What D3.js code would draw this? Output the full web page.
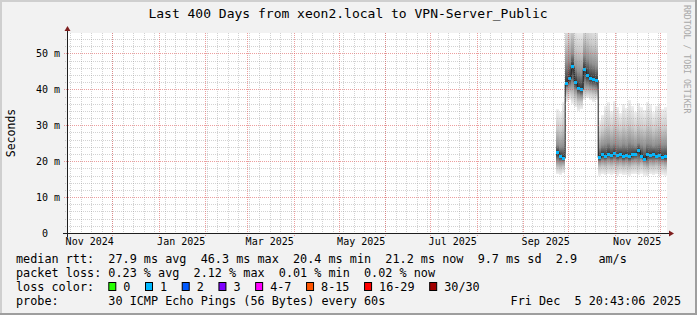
<!DOCTYPE html>
<html>
<head>
<meta charset="utf-8">
<script src="https://cdn.jsdelivr.net/npm/d3@7"></script>
<style>
body { margin:0; background:#f2f2f2; }
svg { display:block; }
text { font-family:"DejaVu Sans Mono", monospace; fill:#000; }
</style>
</head>
<body>
<div id="chart"></div>
<script>
var title = "Last 400 Days from xeon2.local to VPN-Server_Public";
var endTime = new Date(2025, 11, 5, 20, 43, 6);
var spanDays = 400;
var yMax = 55.7;
var yLabels = [0, 10, 20, 30, 40, 50];

// 2-day buckets with data (start date of each bucket)
var bucketDates = ["2025-09-23","2025-09-25","2025-09-27","2025-09-29","2025-10-01","2025-10-03","2025-10-05",
	"2025-10-07","2025-10-09","2025-10-11","2025-10-13","2025-10-15","2025-10-17","2025-10-19","2025-10-21",
	"2025-10-23","2025-10-25","2025-10-27","2025-10-29","2025-10-31","2025-11-02","2025-11-04","2025-11-06",
	"2025-11-08","2025-11-10","2025-11-12","2025-11-14","2025-11-16","2025-11-18","2025-11-20","2025-11-22",
	"2025-11-24","2025-11-26","2025-11-28","2025-11-30","2025-12-02","2025-12-04"];

// values in ms
var medianMs = [22.4,21.3,20.8,
	41.5,43.0,46.3,42.0,40.3,40.0,45.5,44.0,43.0,42.8,42.5,
	21.0,21.8,21.4,22.0,21.6,22.1,21.5,21.9,21.3,21.7,21.2,21.8,22.0,23.0,21.4,20.4,21.8,21.5,22.0,21.3,21.7,21.0,21.2];
var smokeMin = [16.4,16.2,16.6,
	36.5,37.0,36.0,35.0,34.0,34.5,37.0,37.5,37.0,36.5,37.0,
	16.0,16.3,16.1,16.4,16.2,16.3,16.0,16.4,16.1,16.2,15.9,16.3,16.4,16.1,16.5,16.0,15.8,16.3,16.1,16.3,16.0,16.2,16.0];
var smokeP10 = [18.2,18.0,18.4,
	38.5,39.0,38.5,37.5,36.5,36.5,39.0,39.0,38.8,38.5,38.5,
	18.2,18.5,18.3,18.6,18.4,18.6,18.3,18.5,18.2,18.4,18.1,18.5,18.6,18.3,18.7,18.2,17.9,18.4,18.3,18.5,18.2,18.4,18.1];
var smokeP25 = [20.0,19.8,19.8,
	40.5,41.0,41.5,39.8,38.5,38.2,41.5,41.2,40.8,40.5,40.2,
	19.8,20.2,20.0,20.4,20.1,20.4,20.0,20.3,19.9,20.2,19.8,20.2,20.4,20.0,20.6,19.8,19.4,20.2,20.0,20.3,19.9,20.1,19.8];
var smokeP75 = [24.5,24.0,24.2,
	47.5,48.0,50.0,46.0,45.0,44.5,49.5,48.5,47.5,47.0,46.5,
	23.8,24.5,24.8,25.2,24.6,25.0,24.7,24.3,24.9,24.5,25.3,24.8,24.4,25.1,24.6,24.2,25.0,24.8,24.3,24.7,25.0,24.5,24.6];
var smokeP90 = [29.0,28.5,29.5,
	53.0,54.0,56.0,51.5,51.0,50.5,55.0,54.0,53.0,52.5,52.0,
	27.5,28.5,29.5,30.0,29.0,30.2,29.6,28.8,29.8,29.2,30.4,29.5,28.6,29.9,29.3,28.9,30.1,29.7,28.7,29.4,29.8,29.0,29.3];
var smokeMax = [34.5,33.8,36.5,
	60,62,63,58,57,57,62,61,60,59,59,
	31.5,33.0,35.5,36.5,34.0,36.8,35.2,33.5,36.0,34.8,37.0,35.5,33.8,36.2,35.0,34.2,36.6,35.8,33.6,35.4,36.0,34.6,35.2];

var rttLegend = "median rtt:  27.9 ms avg  46.3 ms max  20.4 ms min  21.2 ms now  9.7 ms sd  2.9   am/s";
var lossLegend = "packet loss: 0.23 % avg  2.12 % max  0.01 % min  0.02 % now";
var lossLabels = ["0","1","2","3","4-7","8-15","16-29","30/30"];
var lossColors = ["#26ff00","#00b8ff","#0059ff","#7e00ff","#ff00ff","#ff5500","#ff0000","#a10000"];
var probeText = "probe:       30 ICMP Echo Pings (56 Bytes) every 60s";
var dateText = "Fri Dec  5 20:43:06 2025";

var width = 697, height = 315,
	plot_left = 67, plot_right = 667, plot_top = 33, plot_bottom = 233,
	legend_x = 16, legend_font = 11.8;

// keep runs of spaces in svg text
var pre = function (s) { return s.replace(/ /g, "\u00a0"); };

var svg = d3.select("#chart").append("svg")
	.attr("width", width)
	.attr("height", height);

// background with 3d frame
svg.append("rect").attr("width", width).attr("height", height).attr("fill", "#f2f2f2");
svg.append("path").attr("d", "M0,315V0H697").attr("fill", "none").attr("stroke", "#cfcfcf").attr("stroke-width", 4);
svg.append("path").attr("d", "M0,315H697V0").attr("fill", "none").attr("stroke", "#9e9e9e").attr("stroke-width", 4);

svg.append("rect")
	.attr("x", plot_left).attr("y", plot_top)
	.attr("width", plot_right - plot_left).attr("height", plot_bottom - plot_top)
	.attr("fill", "#ffffff");

var startTime = d3.timeDay.offset(endTime, -spanDays);
var x = d3.scaleTime().domain([startTime, endTime]).range([plot_left, plot_right]);
var y = d3.scaleLinear().domain([0, yMax]).range([plot_bottom, plot_top]);

var parse = d3.timeParse("%Y-%m-%d");
var dates = bucketDates.map(parse);

var buckets = dates.map(function (d, i) {
	return {
		t0: d,
		t1: i < dates.length - 1 ? dates[i + 1] : d3.timeDay.offset(d, 2),
		min: smokeMin[i], p10: smokeP10[i], p25: smokeP25[i], med: medianMs[i],
		p75: smokeP75[i], p90: smokeP90[i], max: smokeMax[i]
	};
});

// smoke gradients, darker towards the median like smokeping does
var gray = function (q) {
	var g = Math.round(50 + 190 * Math.abs(1 - 2 * q));
	return d3.rgb(g, g, g).toString();
};
var bands = [["min","p10",0,0.1],["p10","p25",0.1,0.25],["p25","med",0.25,0.5],
	["med","p75",0.5,0.75],["p75","p90",0.75,0.9],["p90","max",0.9,1]];

var defs = svg.append("defs");
defs.append("clipPath").attr("id", "plotclip")
	.append("rect").attr("x", plot_left).attr("y", plot_top)
	.attr("width", plot_right - plot_left).attr("height", plot_bottom - plot_top);

bands.forEach(function (b, k) {
	var lg = defs.append("linearGradient").attr("id", "band" + k)
		.attr("x1", 0).attr("y1", 1).attr("x2", 0).attr("y2", 0);
	lg.append("stop").attr("offset", 0).attr("stop-color", gray(b[2]));
	lg.append("stop").attr("offset", 1).attr("stop-color", gray(b[3]));
});

var graph = svg.append("g").attr("clip-path", "url(#plotclip)");

bands.forEach(function (b, k) {
	graph.append("g").selectAll("rect")
		.data(buckets).enter().append("rect")
		.attr("x", function (d) { return x(d.t0); })
		.attr("width", function (d) { return x(d.t1) - x(d.t0); })
		.attr("y", function (d) { return y(d[b[1]]); })
		.attr("height", function (d) { return y(d[b[0]]) - y(d[b[1]]); })
		.attr("fill", "url(#band" + k + ")")
		.attr("shape-rendering", "crispEdges");
});

// median line
var medLine = d3.line()
	.x(function (d) { return x(d[0]); })
	.y(function (d) { return y(d[1]); })
	.curve(d3.curveStepAfter);
var medPts = buckets.map(function (d) { return [d.t0, d.med]; });
medPts.push([buckets[buckets.length - 1].t1, buckets[buckets.length - 1].med]);
graph.append("path")
	.attr("d", medLine(medPts))
	.attr("fill", "none").attr("stroke", "#202020").attr("stroke-width", 1);

graph.append("g").selectAll("rect")
	.data(buckets).enter().append("rect")
	.attr("x", function (d) { return x(d.t0); })
	.attr("width", function (d) { return x(d.t1) - x(d.t0); })
	.attr("y", function (d) { return y(d.med) - 1.5; })
	.attr("height", 3)
	.attr("fill", lossColors[1])
	.attr("shape-rendering", "crispEdges");

// grid on top
var grid = svg.append("g").attr("stroke-dasharray", "1,1").attr("shape-rendering", "crispEdges");
var minorCol = "rgba(143,143,143,0.4)", majorCol = "rgba(222,79,79,0.55)";

d3.range(2, yMax, 2).forEach(function (v) {
	var major = v % 10 === 0;
	grid.append("line")
		.attr("x1", plot_left - (major ? 3 : 2)).attr("x2", plot_right)
		.attr("y1", Math.round(y(v)) + 0.5).attr("y2", Math.round(y(v)) + 0.5)
		.attr("stroke", major ? majorCol : minorCol);
});
d3.timeSunday.range(startTime, endTime).forEach(function (t) {
	grid.append("line")
		.attr("x1", Math.round(x(t)) + 0.5).attr("x2", Math.round(x(t)) + 0.5)
		.attr("y1", plot_top).attr("y2", plot_bottom + 2)
		.attr("stroke", minorCol);
});
d3.timeMonth.range(startTime, endTime).forEach(function (t) {
	grid.append("line")
		.attr("x1", Math.round(x(t)) + 0.5).attr("x2", Math.round(x(t)) + 0.5)
		.attr("y1", plot_top).attr("y2", plot_bottom + 3)
		.attr("stroke", majorCol);
});

// axes
svg.append("line").attr("x1", plot_left - 4).attr("x2", plot_right + 3)
	.attr("y1", plot_bottom + 0.5).attr("y2", plot_bottom + 0.5)
	.attr("stroke", "#1f1f1f");
svg.append("line").attr("x1", plot_left + 0.5).attr("x2", plot_left + 0.5)
	.attr("y1", plot_bottom + 4).attr("y2", plot_top - 3)
	.attr("stroke", "#1f1f1f");
svg.append("path").attr("d", "M" + (plot_right + 2) + "," + (plot_bottom - 2.5) + "L" + (plot_right + 7) + "," + (plot_bottom + 0.5) + "L" + (plot_right + 2) + "," + (plot_bottom + 3.5) + "Z")
	.attr("fill", "#7f1f1f");
svg.append("path").attr("d", "M" + (plot_left - 2.5) + "," + (plot_top - 2) + "L" + (plot_left + 0.5) + "," + (plot_top - 7) + "L" + (plot_left + 3.5) + "," + (plot_top - 2) + "Z")
	.attr("fill", "#7f1f1f");

// y labels
svg.append("g").selectAll("text")
	.data(yLabels).enter().append("text")
	.attr("x", function (d) { return d === 0 ? 48 : 60; })
	.attr("y", function (d) { return y(d) + 3.5; })
	.attr("text-anchor", "end")
	.style("font-size", "10px")
	.text(function (d) { return d === 0 ? "0" : pre(d + " m"); });

// x labels, centered mid month
var fmt = d3.timeFormat("%b %Y");
svg.append("g").selectAll("text")
	.data(d3.timeMonth.every(2).range(startTime, endTime)).enter().append("text")
	.attr("x", function (d) { return x(d3.timeDay.offset(d, 15)); })
	.attr("y", 245)
	.attr("text-anchor", "middle")
	.style("font-size", "10px")
	.text(function (d) { return pre(fmt(d)); });

svg.append("text")
	.attr("x", 348).attr("y", 18)
	.attr("text-anchor", "middle")
	.style("font-size", "13px")
	.text(title);

svg.append("text")
	.attr("transform", "translate(14.5,133) rotate(-90)")
	.attr("text-anchor", "middle")
	.style("font-size", "11.5px")
	.text("Seconds");

svg.append("text")
	.attr("transform", "translate(684,5) rotate(90)")
	.style("font-size", "8.2px")
	.style("fill", "#a8a8a8")
	.text(pre("RRDTOOL / TOBI OETIKER"));

// legend
var legend = svg.append("g").style("font-size", legend_font + "px");
legend.append("text").attr("x", legend_x).attr("y", 262.5).text(pre(rttLegend));
legend.append("text").attr("x", legend_x).attr("y", 276.5).text(pre(lossLegend));
legend.append("text").attr("x", legend_x).attr("y", 290.5).text(pre("loss color:"));
legend.append("text").attr("x", legend_x).attr("y", 304.5).text(pre(probeText));
legend.append("text").attr("x", 681).attr("y", 304.5).attr("text-anchor", "end").text(pre(dateText));

var lx = 108.3;
lossLabels.forEach(function (lab, i) {
	legend.append("rect")
		.attr("x", lx + 0.5).attr("y", 282.5)
		.attr("width", 7).attr("height", 8)
		.attr("fill", lossColors[i]).attr("stroke", "#000").attr("stroke-width", 1);
	var t = legend.append("text").attr("x", lx + 15).attr("y", 290.5).text(lab);
	lx = lx + 15 + t.node().getComputedTextLength() + 14.6;
});
</script>
</body>
</html>
